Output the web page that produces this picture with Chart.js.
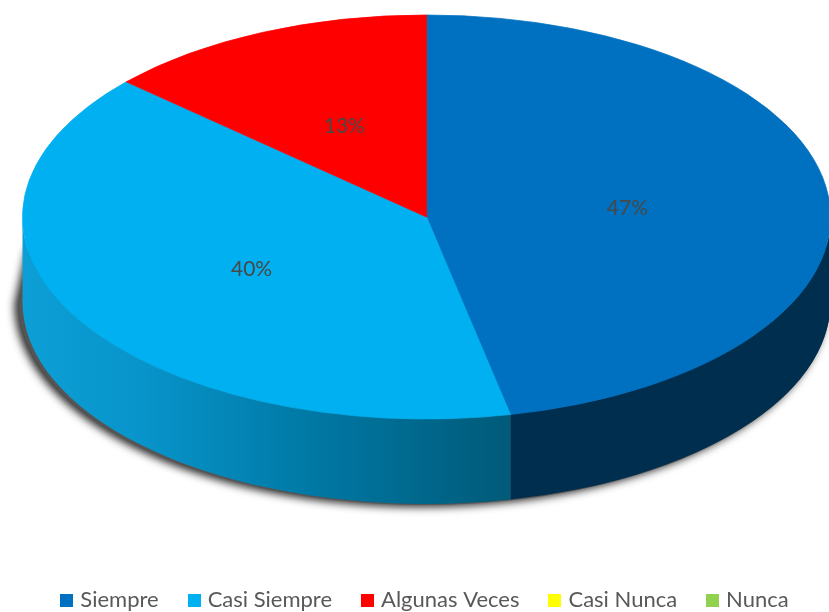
<!DOCTYPE html>
<html>
<head>
  <title>Pie chart</title>
  <script src="https://cdn.jsdelivr.net/npm/chart.js@4/dist/chart.umd.js"></script>
  <style>
    * { margin: 0; padding: 0; box-sizing: border-box; }
    html, body { background: #ffffff; overflow: hidden; }
    canvas { display: block; }
  </style>
</head>
<body>
<canvas id="pie" width="829" height="612"></canvas>

<script>
  const categories = ['Siempre', 'Casi Siempre', 'Algunas Veces', 'Casi Nunca', 'Nunca'];
  const responses = [14, 12, 4, 0, 0];
  const sliceColors = ['#0070C0', '#00B0F0', '#FF0000', '#FFFF00', '#92D050'];

  // flattened "3D" look
  const centerY = 217;
  const radiusX = 404;
  const radiusY = 202;
  const depth = 85;

  function legendSwatch(color) {
    const c = document.createElement('canvas');
    c.width = 13;
    c.height = 13;
    const g = c.getContext('2d');
    g.fillStyle = color;
    g.fillRect(0, 0, 13, 13);
    return c;
  }

  function wallFill(ctx, i) {
    if (i === 0) return '#002E4E';
    const grad = ctx.createLinearGradient(22, 0, 510, 0);
    grad.addColorStop(0, '#0C9FD6');
    grad.addColorStop(0.25, '#0794CA');
    grad.addColorStop(0.6, '#0078A4');
    grad.addColorStop(1, '#005A78');
    return grad;
  }

  const pie3d = {
    id: 'pie3d',
    beforeDatasetsDraw(chart) {
      const ctx = chart.ctx;
      const arcs = chart.getDatasetMeta(0).data;
      const cx = arcs[0].x;

      // soft shadow under the wall, the left edge slopes out from behind the wall
      ctx.save();
      ctx.shadowColor = 'rgba(0,0,0,0.85)';
      ctx.shadowBlur = 9;
      ctx.shadowOffsetX = -4;
      ctx.shadowOffsetY = 2;
      ctx.fillStyle = '#555555';
      ctx.beginPath();
      ctx.ellipse(cx - 2, centerY + depth, radiusX + 2, radiusY + 1, 0, 0, Math.PI);
      ctx.lineTo(cx - radiusX + 8, centerY + 30);
      ctx.lineTo(cx + radiusX, centerY + 30);
      ctx.closePath();
      ctx.fill();
      ctx.restore();

      // side wall, only the part of each slice that faces down
      arcs.forEach((arc, i) => {
        const a0 = Math.max(arc.startAngle, 0);
        const a1 = Math.min(arc.endAngle, Math.PI);
        if (a1 <= a0) return;
        ctx.fillStyle = wallFill(ctx, i);
        ctx.beginPath();
        ctx.ellipse(cx, centerY, radiusX, radiusY, 0, a0, a1);
        ctx.ellipse(cx, centerY + depth, radiusX, radiusY, 0, a1, a0, true);
        ctx.closePath();
        ctx.fill();
      });

      ctx.save();
      ctx.translate(cx, centerY);
      ctx.scale(1, radiusY / radiusX);
      ctx.translate(-cx, -arcs[0].y);
    },
    afterDatasetsDraw(chart) {
      const ctx = chart.ctx;
      ctx.restore();

      const arcs = chart.getDatasetMeta(0).data;
      const total = responses.reduce((a, b) => a + b, 0);
      ctx.save();
      ctx.font = '21px Lato';
      ctx.fillStyle = '#484848';
      ctx.textAlign = 'center';
      ctx.textBaseline = 'middle';
      arcs.forEach((arc, i) => {
        if (!responses[i]) return;
        const p = arc.getCenterPoint();
        const y = centerY + (p.y - arc.y) * radiusY / radiusX;
        ctx.fillText(Math.round(responses[i] / total * 100) + '%', p.x, y + 2);
      });
      ctx.restore();
    }
  };

  new Chart(document.getElementById('pie'), {
    type: 'pie',
    data: {
      labels: categories,
      datasets: [{
        data: responses,
        backgroundColor: sliceColors,
        borderColor: sliceColors,
        borderWidth: 1,
        radius: radiusX,
        clip: false
      }]
    },
    options: {
      responsive: false,
      animation: false,
      layout: { padding: { left: 24, bottom: -9 } },
      plugins: {
        tooltip: { enabled: false },
        legend: {
          position: 'bottom',
          labels: {
            color: '#595959',
            font: { family: 'Lato', size: 22 },
            padding: 33,
            boxWidth: 5,
            usePointStyle: true,
            generateLabels: () => categories.map((text, i) => ({
              text,
              index: i,
              fontColor: '#595959',
              pointStyle: legendSwatch(sliceColors[i])
            }))
          }
        }
      }
    },
    plugins: [pie3d]
  });
</script>
</body>
</html>
